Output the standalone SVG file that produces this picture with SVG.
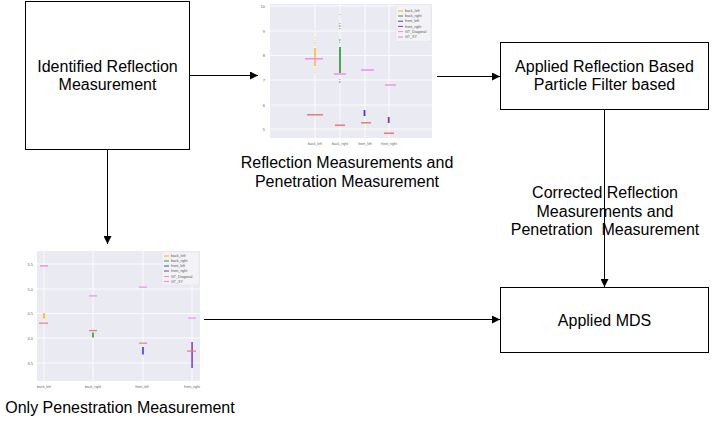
<svg xmlns="http://www.w3.org/2000/svg" width="714" height="422" viewBox="0 0 714 422">
<style>
.box{fill:#fff;stroke:#000;stroke-width:1}
.t{font-family:"Liberation Sans",Arial,sans-serif;font-size:16px;fill:#000;text-anchor:middle}
.pre{white-space:pre}
.con{stroke:#000;stroke-width:1;fill:none}
.plot{fill:#eaeaf2}
.grid{stroke:#fff;stroke-width:0.8}
.tickl{font-family:"Liberation Sans",Arial,sans-serif;font-size:4px;fill:#666;text-anchor:end}
.tickm{font-family:"Liberation Sans",Arial,sans-serif;font-size:3.5px;fill:#666;text-anchor:middle}
.leg{fill:#f3f3f7;stroke:#ddd;stroke-width:0.4}
.lt{font-family:"Liberation Sans",Arial,sans-serif;font-size:3.6px;fill:#555}
.or{fill:#ffb020}
.gr{fill:#2e9a2e}
.bl{fill:#3b3bf0}
.pu{fill:#7a3fb0}
.rd{fill:#f07878}
.pk{fill:#f08cf0}
</style>
<defs>
<marker id="ah" viewBox="0 0 10 10" refX="10" refY="5" markerWidth="8" markerHeight="8" markerUnits="userSpaceOnUse" orient="auto">
<path d="M0,0 L10,5 L0,10 z" fill="#000"/>
</marker>
</defs>

<g id="node-identified">
<rect class="box" x="25.5" y="1.5" width="164" height="148"/>
<text class="t" x="107.5" y="72">Identified Reflection</text>
<text class="t" x="107.5" y="90">Measurement</text>
</g>

<g id="node-chart-reflection">
<rect class="plot" x="270" y="4" width="162" height="134"/>
<g class="grid">
<line x1="270" y1="6" x2="432" y2="6"/>
<line x1="270" y1="31" x2="432" y2="31"/>
<line x1="270" y1="55.5" x2="432" y2="55.5"/>
<line x1="270" y1="80" x2="432" y2="80"/>
<line x1="270" y1="105" x2="432" y2="105"/>
<line x1="270" y1="129" x2="432" y2="129"/>
<line x1="315" y1="4" x2="315" y2="138"/>
<line x1="340" y1="4" x2="340" y2="138"/>
<line x1="365" y1="4" x2="365" y2="138"/>
<line x1="389" y1="4" x2="389" y2="138"/>
</g>
<text class="tickl" x="265" y="7.5">10</text>
<text class="tickl" x="265" y="32.5">9</text>
<text class="tickl" x="265" y="57">8</text>
<text class="tickl" x="265" y="81.5">7</text>
<text class="tickl" x="265" y="106.5">6</text>
<text class="tickl" x="265" y="130.5">5</text>
<text class="tickm" x="315" y="145">back_left</text>
<text class="tickm" x="340" y="145">back_right</text>
<text class="tickm" x="365" y="145">front_left</text>
<text class="tickm" x="389" y="145">front_right</text>
<!-- back_left -->
<rect class="or" x="314.2" y="48" width="1.6" height="18" opacity="0.85"/>
<rect class="or" x="314.5" y="37" width="1" height="1" opacity="0.6"/>
<rect class="or" x="314.5" y="40" width="1" height="1" opacity="0.6"/>
<rect class="or" x="314.5" y="42" width="1" height="2" opacity="0.6"/>
<rect class="or" x="314.5" y="45" width="1" height="1" opacity="0.6"/>
<rect class="or" x="314.5" y="68" width="1" height="1" opacity="0.6"/>
<rect class="or" x="314.5" y="70" width="1" height="1" opacity="0.6"/>
<rect class="or" x="314.5" y="72" width="1" height="1" opacity="0.6"/>
<rect class="or" x="314.5" y="29" width="1" height="1" opacity="0.3"/>
<rect class="pk" x="305" y="58" width="18" height="1.5"/>
<rect class="rd" x="307" y="114" width="16" height="1.5"/>
<!-- back_right -->
<rect class="gr" x="339" y="47" width="2" height="26" opacity="0.85"/>
<rect class="gr" x="339.3" y="14" width="1" height="1" opacity="0.5"/>
<rect class="gr" x="339.3" y="23" width="1" height="1" opacity="0.7"/>
<rect class="gr" x="339.3" y="25" width="1" height="2" opacity="0.7"/>
<rect class="gr" x="339.3" y="28" width="1" height="1" opacity="0.7"/>
<rect class="gr" x="339.3" y="39" width="1" height="2" opacity="0.7"/>
<rect class="gr" x="339.3" y="42" width="1" height="1" opacity="0.7"/>
<rect class="gr" x="339.3" y="79" width="1" height="1" opacity="0.7"/>
<rect class="gr" x="339.3" y="81" width="1" height="2" opacity="0.7"/>
<rect class="pk" x="334" y="73.2" width="12" height="1.5"/>
<rect class="rd" x="335" y="124.5" width="10" height="1.5"/>
<!-- front_left -->
<rect class="pk" x="361" y="69.3" width="13" height="1.5"/>
<rect class="bl" x="363.6" y="110" width="1.8" height="6"/>
<rect class="rd" x="361" y="122" width="10" height="1.5"/>
<!-- front_right -->
<rect class="pk" x="385" y="84.3" width="11" height="1.4"/>
<rect class="pu" x="387.8" y="117" width="1.8" height="6"/>
<rect class="rd" x="384" y="132.5" width="10" height="1.5"/>
<!-- legend -->
<rect class="leg" x="396" y="4.5" width="35" height="37" rx="0.8"/>
<line x1="398" y1="11" x2="403" y2="11" stroke="#ffb020" stroke-width="1"/>
<line x1="398" y1="16" x2="403" y2="16" stroke="#2e9a2e" stroke-width="1"/>
<line x1="398" y1="21.2" x2="403" y2="21.2" stroke="#3b3bf0" stroke-width="1"/>
<line x1="398" y1="26.4" x2="403" y2="26.4" stroke="#7a3fb0" stroke-width="1"/>
<line x1="398" y1="31.6" x2="403" y2="31.6" stroke="#f07878" stroke-width="0.8"/>
<line x1="398" y1="37" x2="403" y2="37" stroke="#f08cf0" stroke-width="1.2"/>
<text class="lt" x="405" y="12.2">back_left</text>
<text class="lt" x="405" y="17.2">back_right</text>
<text class="lt" x="405" y="22.4">front_left</text>
<text class="lt" x="405" y="27.6">front_right</text>
<text class="lt" x="405" y="32.8">GT_Diagonal</text>
<text class="lt" x="405" y="38.2">GT_XY</text>
</g>

<g id="label-reflection">
<text class="t" x="347" y="168">Reflection Measurements and</text>
<text class="t" x="347" y="187">Penetration Measurement</text>
</g>

<g id="node-particle">
<rect class="box" x="500.5" y="42.5" width="208" height="67"/>
<text class="t" x="604.5" y="72">Applied Reflection Based</text>
<text class="t" x="604.5" y="90">Particle Filter based</text>
</g>

<g id="node-mds">
<rect class="box" x="500.5" y="287.5" width="208" height="65"/>
<text class="t" x="604.5" y="325.5">Applied MDS</text>
</g>

<g id="node-chart-penetration">
<rect class="plot" x="37" y="251" width="163" height="130"/>
<g class="grid">
<line x1="37" y1="264" x2="200" y2="264"/>
<line x1="37" y1="289" x2="200" y2="289"/>
<line x1="37" y1="313.5" x2="200" y2="313.5"/>
<line x1="37" y1="338" x2="200" y2="338"/>
<line x1="37" y1="363" x2="200" y2="363"/>
<line x1="44" y1="251" x2="44" y2="381"/>
<line x1="93" y1="251" x2="93" y2="381"/>
<line x1="143" y1="251" x2="143" y2="381"/>
<line x1="192" y1="251" x2="192" y2="381"/>
</g>
<text class="tickl" x="33" y="265.5">5.5</text>
<text class="tickl" x="33" y="290.5">5.0</text>
<text class="tickl" x="33" y="315">4.5</text>
<text class="tickl" x="33" y="339.5">4.0</text>
<text class="tickl" x="33" y="364.5">3.5</text>
<text class="tickm" x="44" y="388">back_left</text>
<text class="tickm" x="93" y="388">back_right</text>
<text class="tickm" x="142" y="388">front_left</text>
<text class="tickm" x="192" y="388">front_right</text>
<!-- back_left -->
<rect class="pk" x="40" y="265.2" width="8" height="1.4"/>
<rect class="or" x="43.2" y="313" width="1.6" height="5.5"/>
<rect class="rd" x="39" y="322.5" width="9" height="1.4" opacity="0.8"/>
<!-- back_right -->
<rect class="pk" x="89" y="295.3" width="8" height="1.2"/>
<rect class="rd" x="89" y="330" width="8" height="1.2"/>
<rect class="gr" x="92.2" y="332.5" width="1.6" height="5"/>
<!-- front_left -->
<rect class="pk" x="139" y="286.5" width="8" height="1.2"/>
<rect class="rd" x="139" y="342.5" width="8" height="1.4" opacity="0.8"/>
<rect class="bl" x="142.2" y="347" width="1.6" height="7.5"/>
<!-- front_right -->
<rect class="pk" x="188" y="317.5" width="8" height="1.2"/>
<rect class="pu" x="191.2" y="342" width="1.8" height="26" opacity="0.85"/>
<rect class="rd" x="187" y="350.5" width="9" height="1.2"/>
<!-- legend -->
<rect class="leg" x="162" y="252" width="37" height="33" rx="0.8"/>
<line x1="164" y1="256" x2="169" y2="256" stroke="#ffb020" stroke-width="1"/>
<line x1="164" y1="261" x2="169" y2="261" stroke="#2e9a2e" stroke-width="1"/>
<line x1="164" y1="266" x2="169" y2="266" stroke="#3b3bf0" stroke-width="1"/>
<line x1="164" y1="271" x2="169" y2="271" stroke="#7a3fb0" stroke-width="1"/>
<line x1="164" y1="276.5" x2="169" y2="276.5" stroke="#f07878" stroke-width="0.8"/>
<line x1="164" y1="281.5" x2="169" y2="281.5" stroke="#f08cf0" stroke-width="1.2"/>
<text class="lt" x="171" y="257.2">back_left</text>
<text class="lt" x="171" y="262.2">back_right</text>
<text class="lt" x="171" y="267.2">front_left</text>
<text class="lt" x="171" y="272.2">front_right</text>
<text class="lt" x="171" y="277.7">GT_Diagonal</text>
<text class="lt" x="171" y="282.7">GT_XY</text>
</g>

<g id="label-penetration">
<text class="t" x="120" y="413">Only Penestration Measurement</text>
</g>

<g id="connectors">
<line class="con" x1="189.5" y1="75.5" x2="258" y2="75.5" marker-end="url(#ah)"/>
<line class="con" x1="107.5" y1="149.5" x2="107.5" y2="244" marker-end="url(#ah)"/>
<line class="con" x1="437" y1="76.5" x2="500" y2="76.5" marker-end="url(#ah)"/>
<line class="con" x1="604.5" y1="109.5" x2="604.5" y2="287" marker-end="url(#ah)"/>
<line class="con" x1="204" y1="319.5" x2="500" y2="319.5" marker-end="url(#ah)"/>
</g>

<g id="label-corrected">
<text class="t" x="605" y="198">Corrected Reflection</text>
<text class="t" x="605" y="217">Measurements and</text>
<text class="t pre" x="605" y="235">Penetration  Measurement</text>
</g>
</svg>
